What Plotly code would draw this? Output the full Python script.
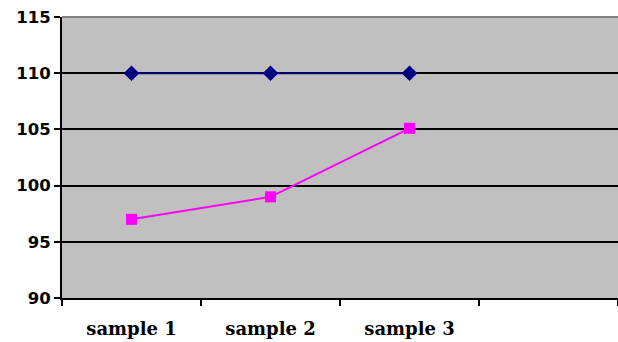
import plotly.graph_objects as go

categories = ["sample 1", "sample 2", "sample 3"]
series_a = [110, 110, 110]
series_b = [97.0, 99.0, 105.1]
y_ticks = [90, 95, 100, 105, 110, 115]

fig = go.Figure()
fig.add_trace(go.Scatter(
    x=categories, y=series_a, mode="lines+markers",
    line=dict(color="#000080", width=2),
    marker=dict(symbol="diamond", size=12, color="#000080"),
    showlegend=False, cliponaxis=False))
fig.add_trace(go.Scatter(
    x=categories, y=series_b, mode="lines+markers",
    line=dict(color="#FF00FF", width=2),
    marker=dict(symbol="square", size=11, color="#FF00FF"),
    showlegend=False, cliponaxis=False))

fig.update_layout(
    width=618, height=342,
    margin=dict(l=62, r=0, t=17, b=44),
    paper_bgcolor="white", plot_bgcolor="#C0C0C0",
    xaxis=dict(
        type="category", categoryorder="array",
        categoryarray=categories + [" "],
        range=[-0.5, 3.5],
        showgrid=False, showline=True, linecolor="black", linewidth=2,
        ticks="outside", tickson="boundaries", ticklen=6, tickwidth=2, tickcolor="black",
        ticklabelstandoff=13,
        tickfont=dict(family="DejaVu Serif", size=18, color="black", weight="bold"),
        zeroline=False, fixedrange=True,
    ),
    yaxis=dict(
        range=[90, 115], tickvals=y_ticks,
        showgrid=True, gridcolor="black", gridwidth=2,
        showline=True, linecolor="black", linewidth=2,
        ticks="outside", ticklen=6, tickwidth=2, tickcolor="black",
        tickfont=dict(family="DejaVu Sans", size=16.5, color="black", weight="bold"),
        zeroline=False, fixedrange=True,
    ),
    shapes=[dict(type="line", xref="paper", yref="paper", x0=0, x1=1, y0=1, y1=1,
                 line=dict(color="#808080", width=2), layer="above")],
)

fig.write_html("out.html")
